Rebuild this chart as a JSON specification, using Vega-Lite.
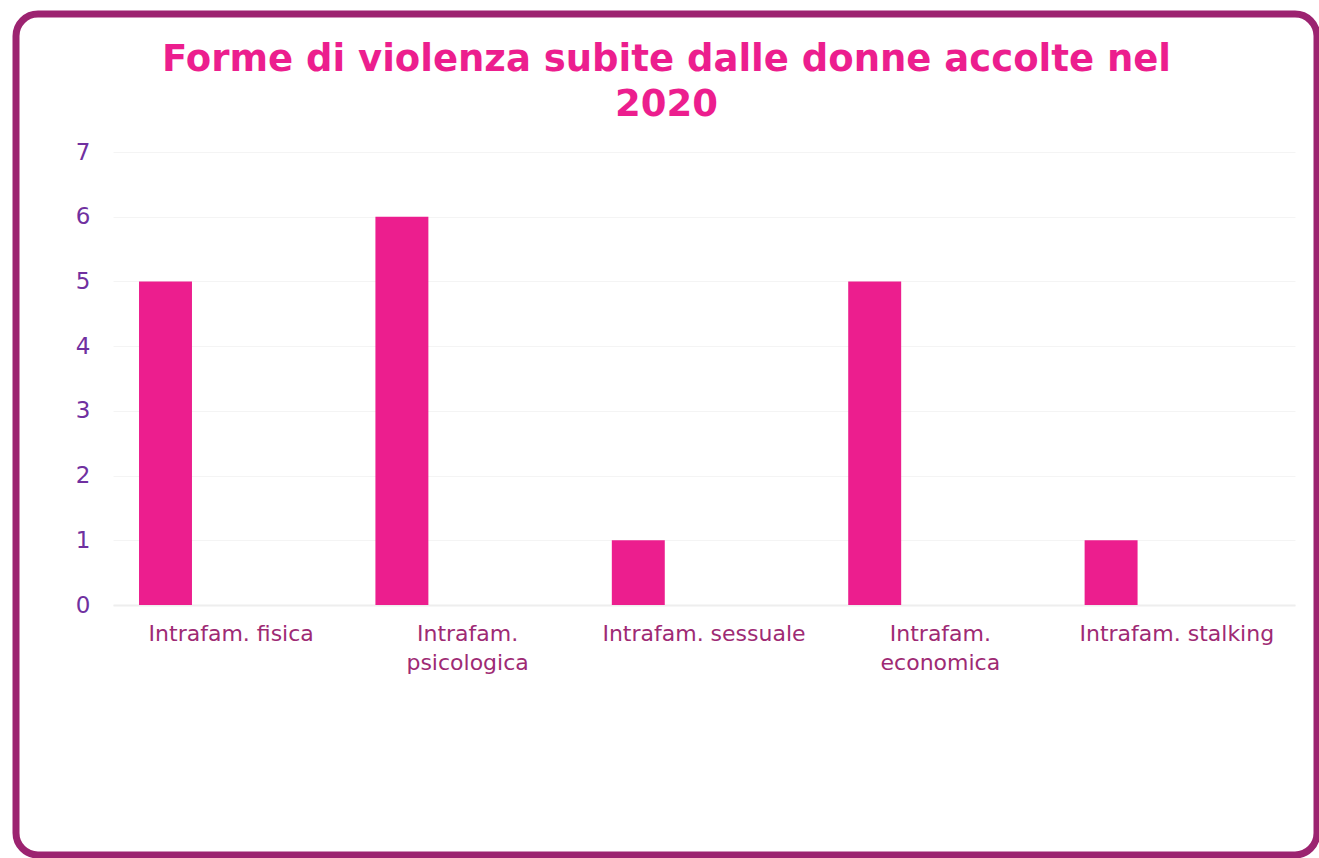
{
  "$schema": "https://vega.github.io/schema/vega-lite/v6.json",
  "autosize": "none",
  "width": 1301,
  "height": 841,
  "padding": {"left": 16, "top": 14, "right": 2, "bottom": 3},
  "background": "white",
  "config": {
    "view": {"stroke": "#9C2370", "strokeWidth": 7, "cornerRadius": 22, "fill": "white"}
  },
  "title": {
    "text": ["Forme di violenza subite dalle donne accolte nel", "2020"],
    "font": "DejaVu Sans",
    "fontSize": 37,
    "fontWeight": "bold",
    "color": "#EC1E8E",
    "anchor": "middle",
    "frame": "group",
    "offset": -110,
    "lineHeight": 45
  },
  "data": {
    "values": [
      {"categoria": "Intrafam. fisica", "valore": 5, "serie": "2020"},
      {"categoria": "Intrafam. psicologica", "valore": 6, "serie": "2020"},
      {"categoria": "Intrafam. sessuale", "valore": 1, "serie": "2020"},
      {"categoria": "Intrafam. economica", "valore": 5, "serie": "2020"},
      {"categoria": "Intrafam. stalking", "valore": 1, "serie": "2020"}
    ]
  },
  "mark": {"type": "bar", "color": "#EC1E8E"},
  "encoding": {
    "x": {
      "field": "categoria",
      "type": "nominal",
      "sort": null,
      "scale": {"range": [97, 1279], "paddingInner": 0, "paddingOuter": 0},
      "axis": {
        "title": null,
        "orient": "bottom",
        "offset": -250,
        "labelAngle": 0,
        "labelFont": "DejaVu Sans",
        "labelFontSize": 22,
        "labelColor": "#9E2A74",
        "labelPadding": 18,
        "labelLineHeight": 29,
        "labelLimit": 400,
        "labelOverlap": false,
        "labelExpr": "length(datum.label) > 18 ? split(datum.label, ' ') : datum.label",
        "ticks": false,
        "tickSize": 0,
        "grid": false,
        "domain": true,
        "domainColor": "#EEEEEE",
        "domainWidth": 2
      }
    },
    "xOffset": {
      "field": "serie",
      "type": "nominal",
      "scale": {"domain": ["2020", "altro"], "paddingInner": 0.597, "paddingOuter": 0.198}
    },
    "y": {
      "field": "valore",
      "type": "quantitative",
      "scale": {"domain": [0, 7], "range": [591, 138], "nice": false},
      "axis": {
        "title": null,
        "values": [0, 1, 2, 3, 4, 5, 6, 7],
        "offset": -97,
        "labelFont": "DejaVu Sans",
        "labelFontSize": 23,
        "labelColor": "#7030A0",
        "labelPadding": 23,
        "ticks": false,
        "tickSize": 0,
        "domain": false,
        "grid": true,
        "gridColor": "#F4F4F4",
        "gridWidth": 1
      }
    }
  }
}
